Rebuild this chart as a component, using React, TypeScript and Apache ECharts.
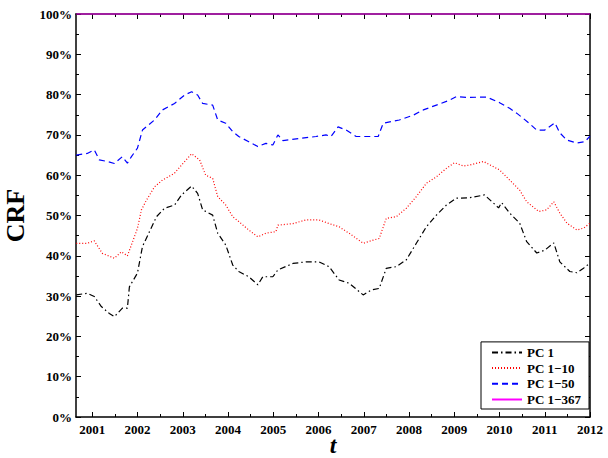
import React, { useEffect, useRef } from "react";
import * as echarts from "echarts";

const YEAR_MIN = 2000.64;
const YEAR_MAX = 2012;
const yearTicks = [2001, 2002, 2003, 2004, 2005, 2006, 2007, 2008, 2009, 2010, 2011, 2012];
const halfYearTicks = [2001.5, 2002.5, 2003.5, 2004.5, 2005.5, 2006.5, 2007.5, 2008.5, 2009.5, 2010.5, 2011.5];

const seriesNames = ["PC 1", "PC 1\u221210", "PC 1\u221250", "PC 1\u2212367"];

const pc1: [number, number][] = [
  [2000.645, 30.3], [2000.889, 30.7], [2001.044, 29.9], [2001.2, 27.4], [2001.377, 25.7],
  [2001.488, 24.9], [2001.665, 27.0], [2001.776, 27.0], [2001.82, 32.3], [2001.998, 35.7],
  [2002.109, 42.3], [2002.264, 46.0], [2002.419, 49.7], [2002.596, 51.8], [2002.818, 52.6],
  [2002.973, 55.1], [2003.195, 57.3], [2003.328, 55.5], [2003.439, 51.4], [2003.661, 50.1],
  [2003.772, 45.6], [2003.949, 42.7], [2004.104, 37.7], [2004.237, 36.1], [2004.459, 34.8],
  [2004.659, 32.8], [2004.769, 34.8], [2004.991, 34.8], [2005.102, 36.5], [2005.435, 38.1],
  [2005.723, 38.5], [2006.011, 38.5], [2006.233, 37.3], [2006.455, 34.0], [2006.676, 33.2],
  [2006.987, 30.3], [2007.164, 31.5], [2007.341, 31.9], [2007.497, 36.9], [2007.718, 37.3],
  [2007.94, 39.0], [2008.162, 43.1], [2008.384, 47.2], [2008.605, 50.1], [2008.827, 52.6],
  [2009.049, 54.3], [2009.337, 54.4], [2009.67, 55.1], [2009.98, 51.9], [2010.047, 53.2],
  [2010.224, 50.6], [2010.446, 48.1], [2010.601, 43.5], [2010.823, 40.7], [2011.0, 41.4],
  [2011.2, 43.2], [2011.333, 38.5], [2011.554, 36.1], [2011.71, 35.8], [2011.865, 37.0],
  [2012.0, 38.2],
];

const pc1to10: [number, number][] = [
  [2000.645, 43.1], [2000.889, 43.1], [2001.044, 43.7], [2001.222, 40.6], [2001.488, 39.4],
  [2001.643, 41.0], [2001.776, 40.0], [2001.865, 42.7], [2001.998, 46.8], [2002.086, 51.4],
  [2002.197, 53.8], [2002.375, 57.1], [2002.552, 58.8], [2002.818, 60.5], [2002.973, 62.5],
  [2003.195, 65.3], [2003.372, 63.8], [2003.506, 60.0], [2003.661, 59.2], [2003.772, 54.7],
  [2003.949, 52.6], [2004.104, 49.7], [2004.237, 48.5], [2004.459, 46.4], [2004.659, 44.7],
  [2004.836, 45.6], [2005.058, 46.0], [2005.102, 47.6], [2005.435, 48.0], [2005.723, 48.9],
  [2006.011, 48.9], [2006.233, 48.0], [2006.455, 47.2], [2006.676, 45.6], [2006.987, 43.1],
  [2007.208, 43.9], [2007.341, 44.3], [2007.497, 49.3], [2007.718, 49.7], [2007.94, 51.8],
  [2008.162, 54.7], [2008.384, 58.0], [2008.605, 59.6], [2008.827, 61.7], [2009.004, 63.1],
  [2009.204, 62.3], [2009.337, 62.5], [2009.647, 63.4], [2010.002, 61.3], [2010.224, 58.8],
  [2010.446, 56.3], [2010.601, 53.4], [2010.867, 51.0], [2011.044, 51.4], [2011.2, 53.4],
  [2011.333, 50.6], [2011.49, 48.1], [2011.71, 46.4], [2011.865, 46.9], [2012.0, 48.1],
];

const pc1to50: [number, number][] = [
  [2000.645, 65.0], [2000.889, 65.4], [2001.044, 66.3], [2001.155, 63.8], [2001.333, 63.4],
  [2001.488, 62.9], [2001.665, 64.6], [2001.776, 63.0], [2001.865, 64.6], [2001.998, 66.7],
  [2002.109, 71.2], [2002.375, 73.7], [2002.552, 76.2], [2002.818, 77.8], [2003.04, 79.9],
  [2003.195, 80.7], [2003.328, 79.9], [2003.439, 77.8], [2003.661, 77.4], [2003.772, 73.7],
  [2003.949, 72.9], [2004.104, 70.8], [2004.237, 69.6], [2004.459, 68.3], [2004.659, 67.1],
  [2004.836, 67.9], [2004.991, 67.5], [2005.102, 70.0], [2005.213, 68.6], [2005.568, 69.1],
  [2005.945, 69.6], [2006.166, 70.0], [2006.277, 69.6], [2006.432, 72.0], [2006.61, 71.2],
  [2006.831, 69.6], [2007.053, 69.6], [2007.319, 69.6], [2007.43, 72.9], [2007.608, 73.3],
  [2007.785, 73.7], [2008.095, 74.9], [2008.317, 76.2], [2008.605, 77.4], [2008.894, 78.6],
  [2009.049, 79.5], [2009.27, 79.3], [2009.714, 79.4], [2010.002, 78.0], [2010.224, 76.6],
  [2010.379, 75.4], [2010.645, 73.0], [2010.823, 71.2], [2011.0, 71.2], [2011.222, 73.0],
  [2011.333, 70.5], [2011.49, 68.7], [2011.71, 68.0], [2011.887, 68.3], [2012.0, 69.7],
];

const pc1to367: [number, number][] = [
  [2000.645, 100], [2006.0, 100], [2012.0, 100],
];

const FONT = "Liberation Serif";

export default function App() {
  const ref = useRef<HTMLDivElement>(null);

  useEffect(() => {
    if (!ref.current) return;
    const chart = echarts.init(ref.current, undefined, { renderer: "svg" });

    const axisLine = { show: true, onZero: false, lineStyle: { color: "#000", width: 1.5 } };
    const labelStyle = { color: "#000", fontFamily: FONT, fontWeight: "bold" as const, fontSize: 13 };

    const xMajor = (position: "top" | "bottom", showLabel: boolean, withName: boolean) => ({
      type: "value",
      min: YEAR_MIN,
      max: YEAR_MAX,
      position,
      gridIndex: 0,
      axisLine,
      splitLine: { show: false },
      axisTick: { show: true, inside: true, length: 5, customValues: yearTicks, lineStyle: { color: "#000", width: 1 } },
      axisLabel: {
        show: showLabel,
        customValues: yearTicks,
        margin: 6,
        formatter: (v: number) => String(Math.round(v)),
        ...labelStyle,
      },
      ...(withName
        ? {
            name: "t",
            nameLocation: "middle",
            nameGap: 18,
            nameMoveOverlap: false,
            nameTextStyle: {
              fontFamily: FONT,
              fontStyle: "italic",
              fontWeight: "bold",
              fontSize: 24,
              lineHeight: 20,
              color: "#000",
            },
          }
        : {}),
    });

    const xMinor = (position: "top" | "bottom") => ({
      type: "value",
      min: YEAR_MIN,
      max: YEAR_MAX,
      position,
      gridIndex: 0,
      axisLine: { show: false, onZero: false },
      splitLine: { show: false },
      axisTick: { show: true, inside: true, length: 3, customValues: halfYearTicks, lineStyle: { color: "#000", width: 1 } },
      axisLabel: { show: false },
    });

    const yAx = (position: "left" | "right", showLabel: boolean) => ({
      type: "value",
      min: 0,
      max: 100,
      interval: 10,
      position,
      gridIndex: 0,
      axisLine,
      splitLine: { show: false },
      minorSplitLine: { show: false },
      axisTick: { show: true, inside: true, length: 5, lineStyle: { color: "#000", width: 1 } },
      minorTick: { show: true, splitNumber: 2, length: 3, lineStyle: { color: "#000", width: 1 } },
      axisLabel: { show: showLabel, formatter: "{value}%", margin: 4, ...labelStyle },
      ...(showLabel
        ? {
            name: "CRF",
            nameLocation: "middle",
            nameGap: 45,
            nameRotate: 90,
            nameTextStyle: { fontFamily: FONT, fontWeight: "bold", fontSize: 26, color: "#000" },
          }
        : {}),
    });

    const lineSeries = (name: string, data: [number, number][], color: string, type: any, z: number) => ({
      name,
      type: "line",
      data,
      xAxisIndex: 0,
      yAxisIndex: 0,
      symbol: "none",
      showSymbol: false,
      clip: false,
      z,
      lineStyle: { color, width: 1.2, type },
      itemStyle: { color },
    });

    chart.setOption({
      animation: false,
      backgroundColor: "#fff",
      grid: { left: 76, right: 18, top: 14, bottom: 41, containLabel: false, outerBoundsMode: "none" },
      xAxis: [xMajor("bottom", true, true), xMinor("bottom"), xMajor("top", false, false), xMinor("top")],
      yAxis: [yAx("left", true), yAx("right", false)],
      legend: {
        data: seriesNames,
        orient: "vertical",
        right: 19,
        bottom: 49,
        itemWidth: 30,
        itemHeight: 13,
        itemGap: 2.7,
        padding: [4, 8, 3, 10],
        borderColor: "#000",
        borderWidth: 1,
        backgroundColor: "#fff",
        itemStyle: { opacity: 0 },
        textStyle: { fontFamily: FONT, fontWeight: "bold", fontSize: 13, color: "#000" },
      },
      series: [
        lineSeries(seriesNames[0], pc1, "#000000", [6, 3, 1.5, 3], 3),
        lineSeries(seriesNames[1], pc1to10, "#ff0000", [1, 2], 3),
        lineSeries(seriesNames[2], pc1to50, "#0000ff", [6, 4], 3),
        lineSeries(seriesNames[3], pc1to367, "#ff00ff", "solid", 4),
      ],
    });

    return () => chart.dispose();
  }, []);

  return (
    <div
      ref={ref}
      style={{ position: "absolute", left: 0, top: 0, width: 608, height: 458 }}
    />
  );
}
